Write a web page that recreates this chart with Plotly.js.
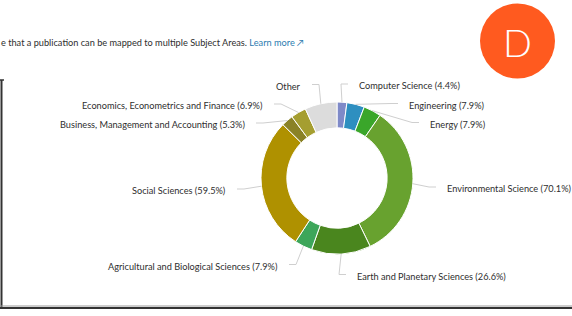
<!DOCTYPE html>
<html>
<head>
<meta charset="utf-8">
<script src="https://cdn.plot.ly/plotly-3.0.1.min.js"></script>
<style>
html,body{margin:0;padding:0;background:#fff;overflow:hidden;}
#chart{width:572px;height:316px;}
</style>
</head>
<body>
<div id="chart"></div>
<script>
// ---- data ----
var subjects = [
  "Computer Science", "Engineering", "Energy", "Environmental Science",
  "Earth and Planetary Sciences", "Agricultural and Biological Sciences",
  "Social Sciences", "Business, Management and Accounting",
  "Economics, Econometrics and Finance", "Other"
];
var percents = [4.4, 7.9, 7.9, 70.1, 26.6, 7.9, 59.5, 5.3, 6.9, 14.4];
var showPct = [true, true, true, true, true, true, true, true, true, false];

// ---- styles / layout constants ----
var colors = ["#7F8AC8", "#2E8FC0", "#3AA62A", "#68A22F", "#4A861E",
              "#3DA65A", "#AF9100", "#8A8226", "#A59E30", "#DCDCDC"];
var W = 572, H = 316;
var CX = 337, CY = 178, R = 76;
// label anchor positions in pixels [x, y, side]
var labelPos = [
  [357, 85.5, "left"], [407, 105, "left"], [428, 124, "left"], [445, 188.5, "left"],
  [355, 276, "left"], [280, 266, "right"], [228, 190.5, "right"], [247, 124.5, "right"],
  [265, 105.5, "right"], [303, 86, "right"]
];
var FONT = "Lato, 'Open Sans', sans-serif";

function px(x){ return x / W; }
function py(y){ return 1 - y / H; }

var total = percents.reduce(function(a,b){return a+b;}, 0);

var trace = {
  type: "pie",
  values: percents,
  labels: subjects,
  sort: false,
  direction: "clockwise",
  rotation: 0,
  hole: 0.66,
  textinfo: "none",
  hoverinfo: "none",
  marker: { colors: colors, line: { color: "#ffffff", width: 1 } },
  domain: { x: [px(CX - R), px(CX + R)], y: [py(CY + R), py(CY - R)] }
};

var annotations = [];
var shapes = [];
var cum = 0;
for (var i = 0; i < subjects.length; i++) {
  var mid = (cum + percents[i] / 2) / total * 2 * Math.PI;
  cum += percents[i];
  var ex = CX + R * Math.sin(mid), ey = CY - R * Math.cos(mid);
  var lp = labelPos[i];
  var lx = lp[2] === "left" ? lp[0] - 9 : lp[0] + 9;
  var ly = lp[1] - 1.5;
  var bx = lp[2] === "left" ? lx - 7 : lx + 7;
  shapes.push({
    type: "path", xref: "paper", yref: "paper",
    path: "M" + px(ex) + "," + py(ey) + " L" + px(bx) + "," + py(ly) + " L" + px(lx) + "," + py(ly),
    line: { color: "#cfcfcf", width: 1 }
  });
  annotations.push({
    xref: "paper", yref: "paper", x: px(lp[0]), y: py(lp[1]),
    xanchor: lp[2], yanchor: "middle", showarrow: false,
    text: subjects[i] + (showPct[i] ? " (" + percents[i].toFixed(1) + "%)" : ""),
    font: { family: FONT, size: 9.2, color: "#2e2e2e" }
  });
}

// header note
annotations.push({
  xref: "paper", yref: "paper", x: px(-1), y: py(42), xanchor: "left", yanchor: "middle",
  showarrow: false,
  text: "e that a publication can be mapped to multiple Subject Areas. <span style='color:#2b7bb0'>Learn more \u2197</span>",
  font: { family: FONT, size: 9.2, color: "#2e2e2e" }
});
// avatar
shapes.push({ type: "circle", xref: "paper", yref: "paper",
  x0: px(480), x1: px(555), y0: py(78.5), y1: py(3.5),
  fillcolor: "#FF5A1F", line: { width: 0 } });
annotations.push({ xref: "paper", yref: "paper", x: px(517.5), y: py(42),
  xanchor: "center", yanchor: "middle", showarrow: false, text: "D",
  font: { family: FONT, size: 38, color: "#ffffff", weight: 300 } });
// box lines
shapes.push({ type: "line", xref: "paper", yref: "paper", x0: px(1.5), x1: px(1.5), y0: py(80), y1: py(308),
  line: { color: "#333333", width: 2 } });
shapes.push({ type: "line", xref: "paper", yref: "paper", x0: px(0), x1: px(4), y0: py(80), y1: py(80),
  line: { color: "#333333", width: 1.5 } });
shapes.push({ type: "line", xref: "paper", yref: "paper", x0: 0, x1: 1, y0: py(306), y1: py(306),
  line: { color: "#9a9a9a", width: 1 } });
shapes.push({ type: "line", xref: "paper", yref: "paper", x0: 0, x1: 1, y0: py(308), y1: py(308),
  line: { color: "#333333", width: 2 } });

var layout = {
  width: W, height: H,
  margin: { l: 0, r: 0, t: 0, b: 0 },
  showlegend: false,
  paper_bgcolor: "#ffffff",
  plot_bgcolor: "#ffffff",
  annotations: annotations,
  shapes: shapes
};

Plotly.newPlot("chart", [trace], layout, { displayModeBar: false, staticPlot: true });
</script>
</body>
</html>
